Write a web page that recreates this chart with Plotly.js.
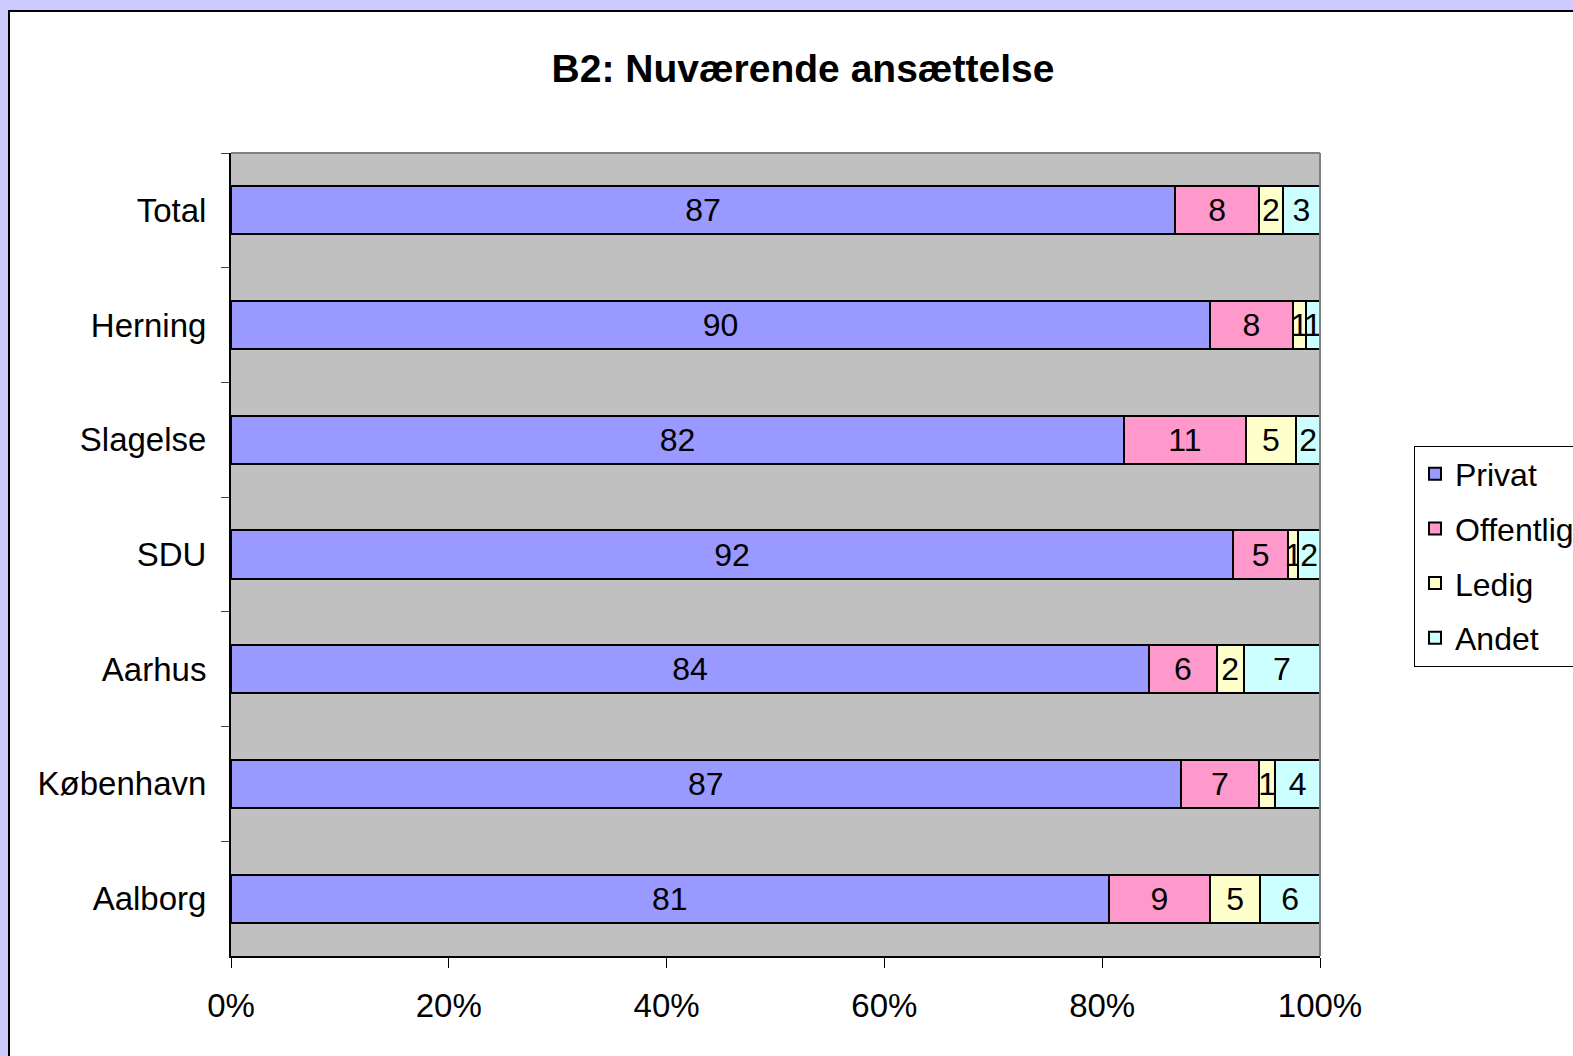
<!DOCTYPE html>
<html>
<head>
<meta charset="utf-8">
<script src="https://cdn.plot.ly/plotly-3.0.1.min.js"></script>
<style>
  html, body { margin:0; padding:0; background:#ccccff; width:1573px; height:1056px; overflow:hidden; }
  #frame { position:absolute; left:8px; top:10px; width:1600px; height:1100px; background:#ffffff; border-left:2px solid #000; border-top:2px solid #000; box-sizing:border-box; }
  #chart { position:absolute; left:0; top:0; width:1750px; height:1056px; }
</style>
</head>
<body>
<div id="frame"></div>
<div id="chart"></div>
<script>
const categories = ["Total", "Herning", "Slagelse", "SDU", "Aarhus", "København", "Aalborg"];
const seriesNames = ["Privat", "Offentlig", "Ledig", "Andet"];
const privat    = [86.7, 89.9, 82.0, 92.0, 84.3, 87.2, 80.6];
const offentlig = [7.7, 7.6, 11.2, 5.1, 6.2, 7.2, 9.3];
const ledig     = [2.2, 1.2, 4.6, 0.9, 2.5, 1.5, 4.6];
const andet     = [3.4, 1.3, 2.2, 2.0, 7.0, 4.1, 5.5];
const privatLabels    = ["87", "90", "82", "92", "84", "87", "81"];
const offentligLabels = ["8", "8", "11", "5", "6", "7", "9"];
const ledigLabels     = ["2", "1", "5", "1", "2", "1", "5"];
const andetLabels     = ["3", "1", "2", "2", "7", "4", "6"];
const xTickVals = [0, 20, 40, 60, 80, 100];
const xTickText = ["0%", "20%", "40%", "60%", "80%", "100%"];

const colors = ["#9999ff", "#ff99cc", "#ffffcc", "#ccffff"];
const values = [privat, offentlig, ledig, andet];
const labels = [privatLabels, offentligLabels, ledigLabels, andetLabels];
const FONT = "Liberation Sans, Arial, sans-serif";
const W = 1750;

const traces = seriesNames.map((name, i) => ({
  type: "bar",
  orientation: "h",
  name: name,
  legendgroup: name,
  y: categories,
  x: values[i],
  text: labels[i],
  textposition: "inside",
  insidetextanchor: "middle",
  constraintext: "none",
  textangle: 0,
  textfont: { family: FONT, size: 32, color: "#000000" },
  hoverinfo: "name+x",
  marker: { color: colors[i], line: { color: "#000000", width: 2 } }
}));

const layout = {
  width: W,
  height: 1056,
  paper_bgcolor: "rgba(0,0,0,0)",
  plot_bgcolor: "#c0c0c0",
  margin: { l: 231, r: W - 1320, t: 153, b: 100, pad: 0 },
  barmode: "stack",
  bargap: 0.58,
  font: { family: FONT, size: 32, color: "#000000" },
  title: {
    text: "<b>B2: Nuværende ansættelse</b>",
    font: { family: FONT, size: 39, color: "#000000" },
    xref: "container", x: 803 / W, xanchor: "center",
    yref: "container", y: 0.9356, yanchor: "middle"
  },
  xaxis: {
    range: [0, 100],
    tickvals: xTickVals,
    ticktext: xTickText,
    showgrid: false,
    zeroline: false,
    showline: true,
    linecolor: "#000000",
    linewidth: 2,
    ticks: "outside",
    ticklen: 10,
    tickwidth: 1,
    tickcolor: "#000000",
    ticklabelstandoff: 9,
    tickfont: { family: FONT, size: 33, color: "#000000" },
    fixedrange: true
  },
  yaxis: {
    type: "category",
    autorange: "reversed",
    showgrid: false,
    zeroline: false,
    showline: true,
    linecolor: "#000000",
    linewidth: 2,
    ticks: "outside",
    tickson: "boundaries",
    ticklen: 8,
    tickwidth: 1,
    tickcolor: "#404040",
    ticklabelstandoff: 16,
    tickfont: { family: FONT, size: 33, color: "#000000" },
    fixedrange: true
  },
  legend: {
    x: (1414 - 231) / (1320 - 231), xanchor: "left",
    y: 0.6357, yanchor: "top",
    bgcolor: "#ffffff",
    bordercolor: "#000000",
    borderwidth: 1,
    font: { family: FONT, size: 32, color: "#000000" },
    traceorder: "grouped",
    tracegroupgap: 10,
    itemclick: false,
    itemdoubleclick: false
  },
  shapes: [
    { type: "line", xref: "paper", yref: "paper", x0: 0, x1: 1, y0: 1, y1: 1, line: { color: "#808080", width: 2 }, layer: "above" },
    { type: "line", xref: "paper", yref: "paper", x0: 1, x1: 1, y0: 0, y1: 1, line: { color: "#808080", width: 2 }, layer: "above" }
  ]
};

Plotly.newPlot("chart", traces, layout, { displayModeBar: false, staticPlot: true });
</script>
</body>
</html>
